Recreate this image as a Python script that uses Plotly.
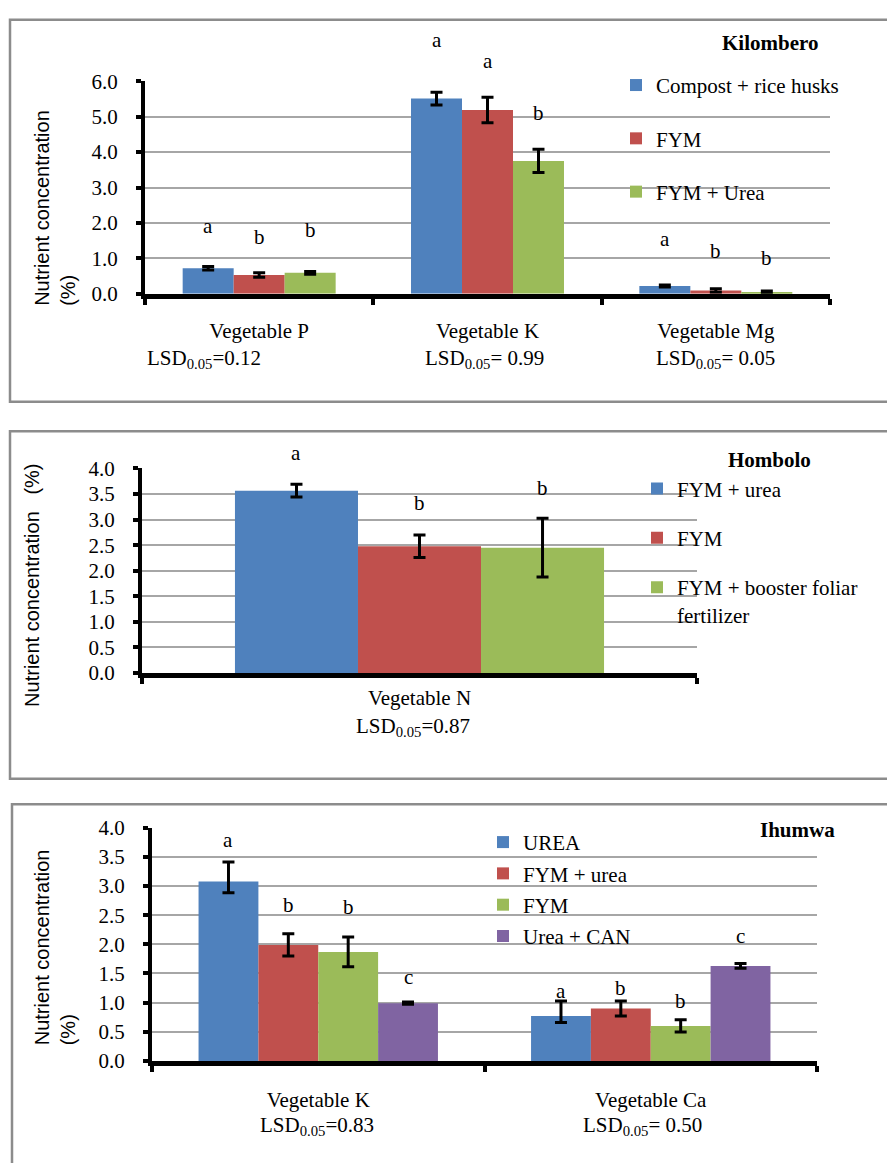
import plotly.graph_objects as go

W, H = 887, 1163
SERIF = "Liberation Serif, Times New Roman, serif"
SANS = "Liberation Sans, Arial, sans-serif"
BLUE, RED, GREEN, PURPLE = "#4F81BD", "#C0504D", "#9BBB59", "#8064A2"

# ---------------- Kilombero ----------------
kil_categories = ["Vegetable P", "Vegetable K", "Vegetable Mg"]
kil_series = ["Compost + rice husks", "FYM", "FYM + Urea"]
kil_compost = [0.72, 5.51, 0.22]
kil_fym = [0.53, 5.19, 0.09]
kil_fym_urea = [0.59, 3.75, 0.05]
kil_err_compost = [0.05, 0.18, 0.03]
kil_err_fym = [0.065, 0.36, 0.05]
kil_err_fym_urea = [0.04, 0.33, 0.03]
kil_letters_compost = ["a", "a", "a"]
kil_letters_fym = ["b", "a", "b"]
kil_letters_fym_urea = ["b", "b", "b"]
kil_letter_y_compost = [1.79, 7.06, 1.44]
kil_letter_y_fym = [1.48, 6.45, 1.09]
kil_letter_y_fym_urea = [1.69, 5.0, 0.9]
kil_lsd = ["=0.12", "= 0.99", "= 0.05"]

# ---------------- Hombolo ----------------
hom_categories = ["Vegetable N"]
hom_series = ["FYM + urea", "FYM", "FYM + booster foliar<br>fertilizer"]
hom_fym_urea = [3.565]
hom_fym = [2.48]
hom_fym_booster = [2.45]
hom_err_fym_urea = [0.125]
hom_err_fym = [0.22]
hom_err_fym_booster = [0.575]
hom_letters_fym_urea = ["a"]
hom_letters_fym = ["b"]
hom_letters_fym_booster = ["b"]
hom_letter_y_fym_urea = [4.23]
hom_letter_y_fym = [3.25]
hom_letter_y_fym_booster = [3.54]
hom_lsd = ["=0.87"]

# ---------------- Ihumwa ----------------
ihu_categories = ["Vegetable K", "Vegetable Ca"]
ihu_series = ["UREA", "FYM + urea", "FYM", "Urea + CAN"]
ihu_urea = [3.08, 0.77]
ihu_fym_urea = [1.99, 0.90]
ihu_fym = [1.87, 0.60]
ihu_urea_can = [0.99, 1.63]
ihu_err_plus_urea = [0.335, 0.26]
ihu_err_minus_urea = [0.195, 0.11]
ihu_err_fym_urea = [0.19, 0.13]
ihu_err_fym = [0.255, 0.105]
ihu_err_urea_can = [0.02, 0.04]
ihu_letters_urea = ["a", "a"]
ihu_letters_fym_urea = ["b", "b"]
ihu_letters_fym = ["b", "b"]
ihu_letters_urea_can = ["c", "c"]
ihu_letter_y_urea = [3.73, 1.13]
ihu_letter_y_fym_urea = [2.61, 1.19]
ihu_letter_y_fym = [2.58, 0.96]
ihu_letter_y_urea_can = [1.37, 2.08]
ihu_lsd = ["=0.83", "= 0.50"]


def px(x):
    return x / W


def py(y):
    return 1 - y / H


panels = [
    dict(
        cats=kil_categories, names=kil_series, colors=[BLUE, RED, GREEN],
        vals=[kil_compost, kil_fym, kil_fym_urea],
        eplus=[kil_err_compost, kil_err_fym, kil_err_fym_urea],
        eminus=[kil_err_compost, kil_err_fym, kil_err_fym_urea],
        letters=[kil_letters_compost, kil_letters_fym, kil_letters_fym_urea],
        lety=[kil_letter_y_compost, kil_letter_y_fym, kil_letter_y_fym_urea],
        lsd=kil_lsd, lsd_shift=[-55, -3, 0],
        xdom=(145, 830), ydom=(70.7, 287.7), yrange=(0, 6), dtick=1,
        group=0.67, standoff=14, lsd_y=354,
        title="Kilombero", title_xy=(770, 32),
        legend=dict(x=616, y=54, gap=23, valign="middle"),
        ytitle=("Nutrient concentration<br>(%)", 55, 200),
        box=(10, 8, 398),
    ),
    dict(
        cats=hom_categories, names=hom_series, colors=[BLUE, RED, GREEN],
        vals=[hom_fym_urea, hom_fym, hom_fym_booster],
        eplus=[hom_err_fym_urea, hom_err_fym, hom_err_fym_booster],
        eminus=[hom_err_fym_urea, hom_err_fym, hom_err_fym_booster],
        letters=[hom_letters_fym_urea, hom_letters_fym, hom_letters_fym_booster],
        lety=[hom_letter_y_fym_urea, hom_letter_y_fym, hom_letter_y_fym_booster],
        lsd=hom_lsd, lsd_shift=[-7],
        xdom=(142, 697), ydom=(466, 675), yrange=(0, 4), dtick=0.5,
        group=0.665, standoff=2, lsd_y=730,
        title="Hombolo", title_xy=(769, 457),
        legend=dict(x=637, y=466, gap=19, valign="top"),
        ytitle=("Nutrient concentration\u00a0\u00a0\u00a0(%)", 32, 586),
        box=(10, 428, 783),
    ),
    dict(
        cats=ihu_categories, names=ihu_series, colors=[BLUE, RED, GREEN, PURPLE],
        vals=[ihu_urea, ihu_fym_urea, ihu_fym, ihu_urea_can],
        eplus=[ihu_err_plus_urea, ihu_err_fym_urea, ihu_err_fym, ihu_err_urea_can],
        eminus=[ihu_err_minus_urea, ihu_err_fym_urea, ihu_err_fym, ihu_err_urea_can],
        letters=[ihu_letters_urea, ihu_letters_fym_urea, ihu_letters_fym, ihu_letters_urea_can],
        lety=[ihu_letter_y_urea, ihu_letter_y_fym_urea, ihu_letter_y_fym, ihu_letter_y_urea_can],
        lsd=ihu_lsd, lsd_shift=[-1, -8],
        xdom=(152, 817), ydom=(833, 1071), yrange=(0, 4), dtick=0.5,
        group=0.72, standoff=16, lsd_y=1137,
        title="Ihumwa", title_xy=(797, 835),
        legend=dict(x=483, y=827, gap=1, valign="middle"),
        ytitle=("Nutrient concentration<br>(%)", 55, 955),
        box=(12, 809, 1180),
    ),
]

fig = go.Figure()
annotations = []
shapes = []
layout_extra = {}

for p_i, p in enumerate(panels):
    sfx = "" if p_i == 0 else str(p_i + 1)
    xa, ya = "x" + sfx, "y" + sfx
    leg = "legend" + sfx
    n = len(p["names"])
    w = p["group"] / n
    r0, r1 = p["yrange"]
    for i in range(n):
        off = -p["group"] / 2 + i * w
        fig.add_trace(go.Bar(
            x=p["cats"], y=p["vals"][i], name=p["names"][i],
            width=w, offset=off, marker=dict(color=p["colors"][i], line=dict(width=0)),
            error_y=dict(type="data", symmetric=False, array=p["eplus"][i],
                         arrayminus=p["eminus"][i], color="black", thickness=3, width=6),
            xaxis=xa, yaxis=ya, legend=leg, legendgroup=f"g{p_i}_{i}",
        ))
        for c_i, (letter, ly) in enumerate(zip(p["letters"][i], p["lety"][i])):
            annotations.append(dict(
                x=c_i + off + w / 2, y=(ly - r0) / (r1 - r0), xref=xa, yref=ya + " domain",
                text=letter, showarrow=False, yshift=4,
                font=dict(family=SERIF, size=21, color="black"),
                xanchor="center", yanchor="middle"))
    for c_i, (cat, lsd) in enumerate(zip(p["cats"], p["lsd"])):
        annotations.append(dict(
            x=c_i, y=py(p["lsd_y"]), xref=xa, yref="paper", xshift=p["lsd_shift"][c_i],
            text="LSD<sub>0.05</sub>" + lsd, showarrow=False,
            font=dict(family=SERIF, size=21, color="black"), xanchor="center", yanchor="middle"))
    annotations.append(dict(
        x=px(p["title_xy"][0]), y=py(p["title_xy"][1]), xref="paper", yref="paper",
        text="<b>" + p["title"] + "</b>", showarrow=False,
        font=dict(family=SERIF, size=21, color="black"), xanchor="center", yanchor="middle"))
    t, tx, ty = p["ytitle"]
    annotations.append(dict(
        x=px(tx), y=py(ty), xref="paper", yref="paper", text=t, textangle=-90,
        align="left", showarrow=False, font=dict(family=SANS, size=20, color="black"),
        xanchor="center", yanchor="middle"))
    bx0, by0, by1 = p["box"]
    shapes.append(dict(type="rect", xref="paper", yref="paper", x0=px(bx0), x1=1.05,
                       y0=py(by1), y1=py(by0), line=dict(color="#8c8c8c", width=2.5),
                       fillcolor="rgba(0,0,0,0)", layer="below"))
    layout_extra["xaxis" + sfx] = dict(
        domain=[px(p["xdom"][0]), px(p["xdom"][1])], anchor=ya,
        showline=True, linecolor="black", linewidth=5, ticks="outside",
        tickson="boundaries", ticklen=6, tickwidth=4, tickcolor="black",
        showgrid=False, ticklabelstandoff=p["standoff"],
        tickfont=dict(family=SERIF, size=21, color="black"))
    layout_extra["yaxis" + sfx] = dict(
        domain=[py(p["ydom"][1]), py(p["ydom"][0])], anchor=xa,
        range=[r0, r1], dtick=p["dtick"], tickformat=".1f",
        showline=True, linecolor="black", linewidth=4, ticks="outside",
        ticklen=5, tickwidth=4, tickcolor="black",
        showgrid=True, gridcolor="#a6a6a6", gridwidth=2, zeroline=False,
        ticklabelstandoff=14, tickfont=dict(family=SERIF, size=21, color="black"))
    lg = p["legend"]
    layout_extra[leg] = dict(
        x=px(lg["x"]), y=py(lg["y"]), xanchor="left", yanchor="top",
        bgcolor="rgba(0,0,0,0)", traceorder="grouped", tracegroupgap=lg["gap"],
        valign=lg["valign"], font=dict(family=SERIF, size=21, color="black"))

fig.update_layout(
    width=W, height=H, margin=dict(l=0, r=0, t=0, b=0),
    paper_bgcolor="white", plot_bgcolor="white",
    font=dict(family=SERIF, size=21, color="black"),
    barmode="overlay", annotations=annotations, shapes=shapes,
    **layout_extra,
)

fig.write_html(
    "out.html",
    config={"displayModeBar": False},
    post_script="document.body.style.margin='0';document.body.style.padding='0';"
                "document.body.style.overflow='hidden';",
)
